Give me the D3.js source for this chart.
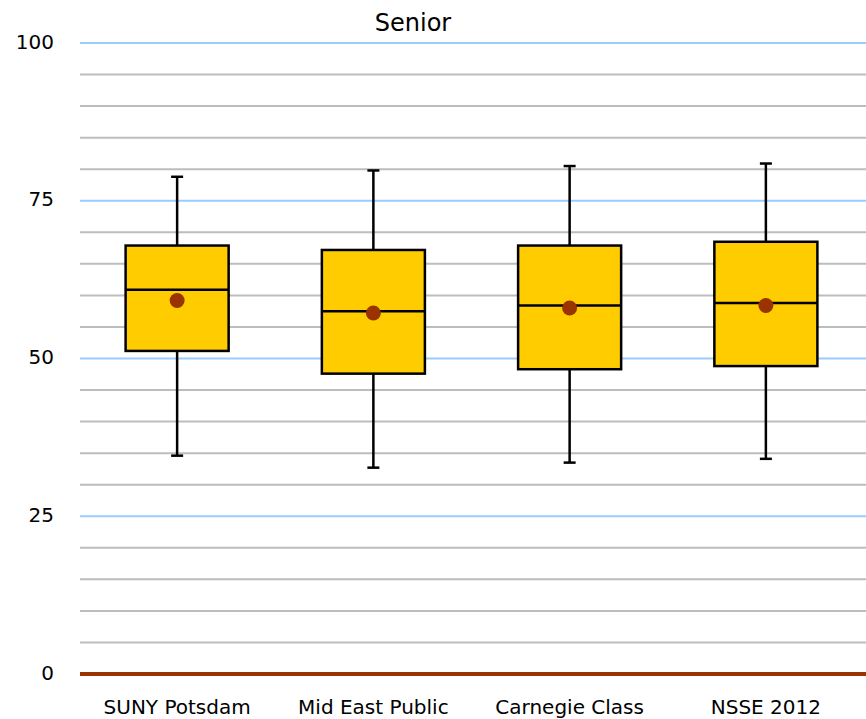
<!DOCTYPE html>
<html><head><meta charset="utf-8">
<script src="https://cdn.jsdelivr.net/npm/d3@7"></script>
<style>body{margin:0;background:#fff;}svg{display:block;}</style>
</head><body>
<svg id="c" width="866" height="719"></svg>
<script>
const categories = ["SUNY Potsdam", "Mid East Public", "Carnegie Class", "NSSE 2012"];
const whiskerLow = [34.6, 32.7, 33.5, 34.1];
const q1 = [51.2, 47.6, 48.3, 48.8];
const median = [60.9, 57.5, 58.4, 58.8];
const q3 = [67.9, 67.2, 67.9, 68.5];
const whiskerHigh = [78.8, 79.8, 80.5, 80.9];
const mean = [59.2, 57.2, 58.0, 58.4];
const yTicks = [0, 25, 50, 75, 100];
const title = "Senior";

const svg = d3.select("#c");
const font = "'DejaVu Sans', sans-serif";
const x = d3.scaleBand().domain(categories).range([79, 864]).padding(0);
const y = d3.scaleLinear().domain([0, 100]).range([674, 43]);
const boxW = x.bandwidth() * 0.525;

// grid
const minor = d3.range(5, 100, 5).filter(v => v % 25 !== 0);
svg.append("g").selectAll("line").data(minor).join("line")
  .attr("x1", 80).attr("x2", 866).attr("y1", d => y(d)).attr("y2", d => y(d))
  .attr("stroke", "#bdbdbd").attr("stroke-width", 2);
svg.append("g").selectAll("line").data(yTicks.filter(v => v > 0)).join("line")
  .attr("x1", 80).attr("x2", 866).attr("y1", d => y(d)).attr("y2", d => y(d))
  .attr("stroke", "#99ccff").attr("stroke-width", 2);

// y axis labels
const yAxis = d3.axisLeft(y).tickValues(yTicks).tickSize(0).tickPadding(0);
const ya = svg.append("g").attr("transform", "translate(54,0)").call(yAxis);
ya.select(".domain").remove();
ya.selectAll("text").attr("font-family", font).attr("font-size", 20).attr("fill", "#000").attr("dy", 5);

// boxes
const data = categories.map((c, i) => ({c, lo: whiskerLow[i], q1: q1[i], med: median[i], q3: q3[i], hi: whiskerHigh[i], mean: mean[i]}));
const g = svg.append("g").selectAll("g").data(data).join("g")
  .attr("transform", d => `translate(${x(d.c) + x.bandwidth() / 2},0)`);
g.append("line").attr("x1", 0).attr("x2", 0).attr("y1", d => y(d.hi)).attr("y2", d => y(d.q3)).attr("stroke", "#000").attr("stroke-width", 2.5);
g.append("line").attr("x1", 0).attr("x2", 0).attr("y1", d => y(d.q1)).attr("y2", d => y(d.lo)).attr("stroke", "#000").attr("stroke-width", 2.5);
g.append("line").attr("x1", -6).attr("x2", 6).attr("y1", d => y(d.hi)).attr("y2", d => y(d.hi)).attr("stroke", "#000").attr("stroke-width", 2.5);
g.append("line").attr("x1", -6).attr("x2", 6).attr("y1", d => y(d.lo)).attr("y2", d => y(d.lo)).attr("stroke", "#000").attr("stroke-width", 2.5);
g.append("rect").attr("x", -boxW / 2).attr("width", boxW)
  .attr("y", d => y(d.q3)).attr("height", d => y(d.q1) - y(d.q3))
  .attr("fill", "#ffcc00").attr("stroke", "#000").attr("stroke-width", 2.5);
g.append("line").attr("x1", -boxW / 2).attr("x2", boxW / 2).attr("y1", d => y(d.med)).attr("y2", d => y(d.med)).attr("stroke", "#000").attr("stroke-width", 2.5);
g.append("circle").attr("cx", 0).attr("cy", d => y(d.mean)).attr("r", 7.5).attr("fill", "#993300");

// zero line
svg.append("line").attr("x1", 80).attr("x2", 866).attr("y1", y(0)).attr("y2", y(0)).attr("stroke", "#993300").attr("stroke-width", 4);

// x labels
const xAxis = d3.axisBottom(x).tickSize(0).tickPadding(0);
const xa = svg.append("g").attr("transform", "translate(0,714)").call(xAxis);
xa.select(".domain").remove();
xa.selectAll("text").attr("font-family", font).attr("font-size", 20).attr("fill", "#000").attr("dy", 0);

svg.append("text").attr("x", 413).attr("y", 31).attr("text-anchor", "middle")
  .attr("font-family", font).attr("font-size", 24).attr("fill", "#000").text(title);
</script>
</body></html>
